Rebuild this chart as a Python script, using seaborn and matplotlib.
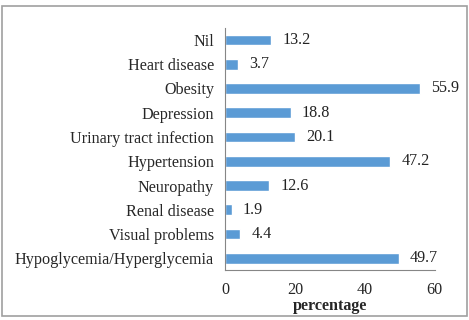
import numpy as np
import pandas as pd
import matplotlib
matplotlib.use("Agg")
import matplotlib.pyplot as plt
import seaborn as sns
from matplotlib.patches import Rectangle

# ---- Data (top to bottom as shown) ----
conditions = [
    "Nil",
    "Heart disease",
    "Obesity",
    "Depression",
    "Urinary tract infection",
    "Hypertension",
    "Neuropathy",
    "Renal disease",
    "Visual problems",
    "Hypoglycemia/Hyperglycemia",
]
percentages = [13.2, 3.7, 55.9, 18.8, 20.1, 47.2, 12.6, 1.9, 4.4, 49.7]
x_ticks = [0, 20, 40, 60]

df = pd.DataFrame({"condition": conditions, "percentage": percentages})

sns.set_style("white")
plt.rcParams["font.family"] = ["Liberation Serif", "DejaVu Serif"]
FS = 11.6

fig = plt.figure(figsize=(4.69, 3.2), dpi=100)
ax = fig.add_axes([0.48, 0.155, 0.447, 0.758])

sns.barplot(data=df, x="percentage", y="condition", orient="h",
            color="#5B9BD5", saturation=1, width=0.44, ax=ax)

# value labels
for i, v in enumerate(percentages):
    ax.annotate(f"{v}", xy=(v, i), xytext=(8, 0), textcoords="offset points",
                va="center", ha="left", fontsize=FS, color="#222222")

ax.set_xlim(0, 60)
ax.set_xticks(x_ticks)
ax.set_ylim(len(conditions) - 0.5, -0.5)
ax.set_xlabel("percentage", fontsize=FS, fontweight="bold", labelpad=0)
ax.set_ylabel("")

ax.tick_params(axis="x", labelsize=FS, length=4, color="#868686", direction="out", pad=4)
ax.tick_params(axis="y", labelsize=FS, length=0, pad=8)
ax.set_yticks(np.arange(-0.5, len(conditions), 1), minor=True)
ax.tick_params(axis="y", which="minor", length=4, color="#868686", direction="out")
ax.tick_params(axis="x", which="minor", bottom=False)

for s in ["top", "right"]:
    ax.spines[s].set_visible(False)
for s in ["left", "bottom"]:
    ax.spines[s].set_color("#868686")
    ax.spines[s].set_linewidth(0.8)

# outer chart border
fig.patches.append(Rectangle((0.005, 0.013), 0.99, 0.967, transform=fig.transFigure,
                             fill=False, edgecolor="#a0a0a0", linewidth=1.2))

fig.savefig("out.png", dpi=100)
